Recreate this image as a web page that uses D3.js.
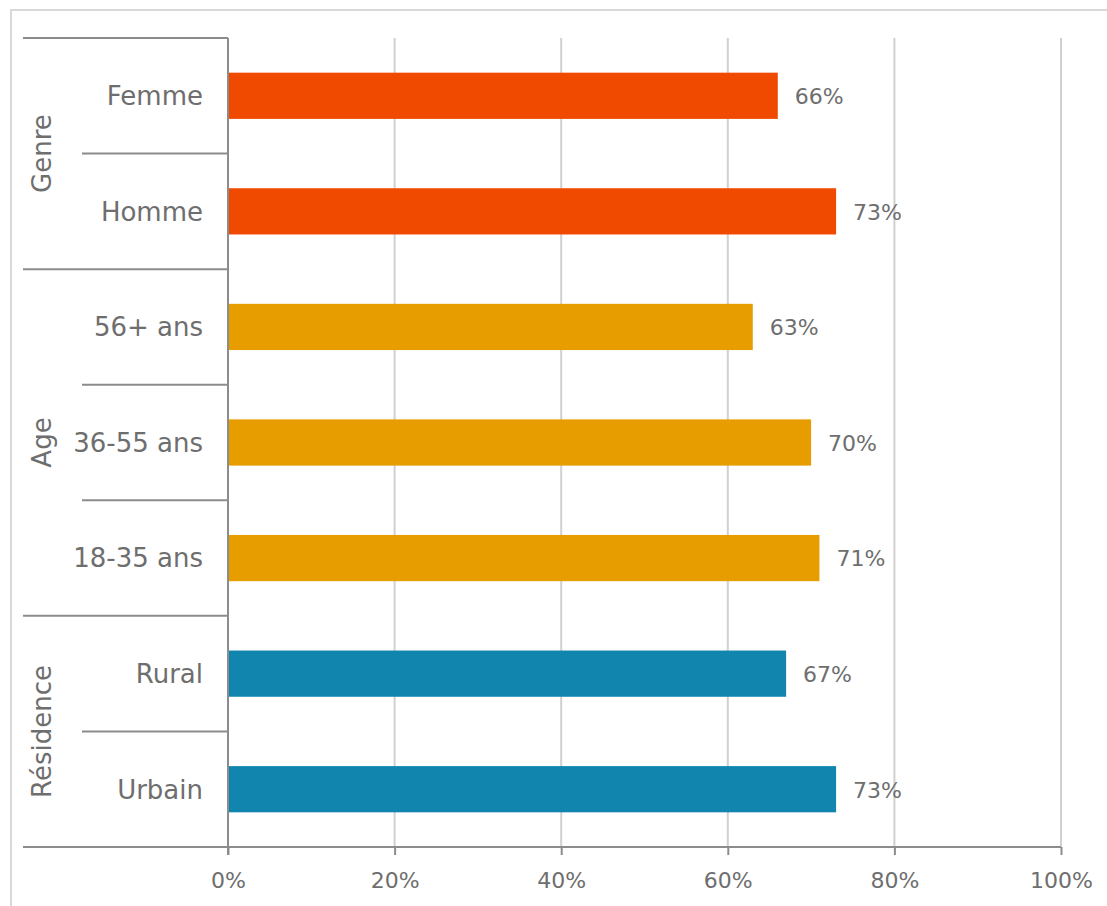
<!DOCTYPE html>
<html>
<head>
<meta charset="utf-8">
<script src="https://cdn.jsdelivr.net/npm/d3@7"></script>
<style>
  html, body { margin: 0; padding: 0; background: #fff; }
  #chart { width: 1107px; height: 906px; }
  text { font-family: "DejaVu Sans", "Lato", sans-serif; fill: #6e6e6e; }
</style>
</head>
<body>
<div id="chart"></div>
<script>
// data
const categories = ["Femme", "Homme", "56+ ans", "36-55 ans", "18-35 ans", "Rural", "Urbain"];
const categoryGroup = ["Genre", "Genre", "Age", "Age", "Age", "Résidence", "Résidence"];
const values = [66, 73, 63, 70, 71, 67, 73];
const groups = ["Genre", "Age", "Résidence"];
const groupColors = ["#F04900", "#E79D00", "#1185AE"];
const tickValues = [0, 20, 40, 60, 80, 100];

let margin = { top: 38, right: 46, bottom: 59, left: 228 };
let width = 1107 - margin.left - margin.right;
let height = 906 - margin.top - margin.bottom;

let svg = d3.select("#chart").append("svg")
    .attr("width", 1107)
    .attr("height", 906);

// outer frame
svg.append("path")
    .attr("d", "M11,906 L11,10 L1107,10")
    .attr("fill", "none")
    .attr("stroke", "#d9d9d9")
    .attr("stroke-width", 2);

let g = svg.append("g")
    .attr("transform", `translate(${margin.left},${margin.top})`);

let xScale = d3.scaleLinear().domain([0, 100]).range([0, width]);
let yScale = d3.scaleBand().domain(categories).range([0, height]).paddingInner(0.6).paddingOuter(0.3);
let step = yScale.step();
let color = d3.scaleOrdinal().domain(groups).range(groupColors);

// gridlines
g.selectAll(".grid")
    .data(tickValues.filter(d => d > 0))
    .enter().append("line")
    .attr("class", "grid")
    .attr("x1", d => xScale(d)).attr("x2", d => xScale(d))
    .attr("y1", 0).attr("y2", height)
    .attr("stroke", "#d0d0d0")
    .attr("stroke-width", 2);

// bars
g.selectAll(".bar")
    .data(categories)
    .enter().append("rect")
    .attr("class", "bar")
    .attr("x", 0)
    .attr("y", d => yScale(d))
    .attr("width", (d, i) => xScale(values[i]))
    .attr("height", yScale.bandwidth())
    .attr("fill", (d, i) => color(categoryGroup[i]));

// value labels
g.selectAll(".val")
    .data(categories)
    .enter().append("text")
    .attr("class", "val")
    .attr("x", (d, i) => xScale(values[i]) + 17)
    .attr("y", d => yScale(d) + yScale.bandwidth() / 2)
    .attr("dy", "0.38em")
    .style("font-size", "22px")
    .text((d, i) => values[i] + "%");

// x axis
let xAxis = d3.axisBottom(xScale)
    .tickValues(tickValues)
    .tickSize(8)
    .tickFormat(d => d + "%");

let xGroup = g.append("g")
    .attr("transform", `translate(0,${height})`)
    .call(xAxis);
xGroup.select(".domain").remove();
xGroup.selectAll("line").attr("stroke", "#8c8c8c").attr("stroke-width", 2);
xGroup.selectAll("text")
    .attr("dy", "1.35em")
    .style("font-size", "22px")
    .style("fill", "#6e6e6e");

// axis lines
g.append("line")
    .attr("x1", -205).attr("x2", width)
    .attr("y1", height).attr("y2", height)
    .attr("stroke", "#8c8c8c").attr("stroke-width", 2);
g.append("line")
    .attr("x1", 0).attr("x2", 0)
    .attr("y1", 0).attr("y2", height + 8)
    .attr("stroke", "#8c8c8c").attr("stroke-width", 2);

// category labels
g.selectAll(".cat")
    .data(categories)
    .enter().append("text")
    .attr("class", "cat")
    .attr("x", -25)
    .attr("y", d => yScale(d) + yScale.bandwidth() / 2)
    .attr("dy", "0.36em")
    .attr("text-anchor", "end")
    .style("font-size", "26px")
    .text(d => d);

// separators: group bounds long, inner bounds short
let groupExtents = groups.map(gr => {
    let idx = categories.map((c, i) => i).filter(i => categoryGroup[i] === gr);
    let y0 = yScale(categories[idx[0]]) - yScale.paddingOuter() * step;
    let y1 = yScale(categories[idx[idx.length - 1]]) + yScale.bandwidth() + yScale.paddingOuter() * step;
    return { name: gr, y0: y0, y1: y1 };
});

categories.forEach((c, i) => {
    if (i === 0) return;
    let y = yScale(c) - yScale.paddingOuter() * step;
    let isGroupBound = categoryGroup[i] !== categoryGroup[i - 1];
    g.append("line")
        .attr("x1", isGroupBound ? -205 : -146).attr("x2", 0)
        .attr("y1", y).attr("y2", y)
        .attr("stroke", "#8c8c8c").attr("stroke-width", 2);
});
g.append("line")
    .attr("x1", -205).attr("x2", 0)
    .attr("y1", 0).attr("y2", 0)
    .attr("stroke", "#8c8c8c").attr("stroke-width", 2);

// group labels
g.selectAll(".grp")
    .data(groupExtents)
    .enter().append("text")
    .attr("class", "grp")
    .attr("transform", d => `translate(-186,${(d.y0 + d.y1) / 2}) rotate(-90)`)
    .attr("dy", "0.36em")
    .attr("text-anchor", "middle")
    .style("font-size", "26px")
    .text(d => d.name);
</script>
</body>
</html>
